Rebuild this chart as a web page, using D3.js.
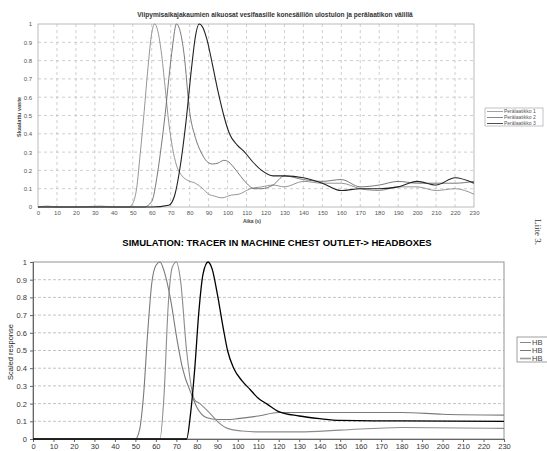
<!DOCTYPE html>
<html>
<head>
<meta charset="utf-8">
<script src="https://cdn.jsdelivr.net/npm/d3@7"></script>
<style>
  body { margin: 0; background: #fff; }
  svg { font-family: "Liberation Sans", Arial, sans-serif; }
</style>
</head>
<body>
<svg width="547" height="451"></svg>
<script>
var svg = d3.select('svg');

// Measured data (top chart), time in seconds
var topTime1 = [0, 5, 10, 20, 33, 40, 48, 50, 52, 54, 56, 58, 60, 61.5, 63, 65, 67, 69, 71, 73, 76, 79, 83, 87, 90, 93, 97, 102, 106, 112, 118, 124, 130, 140, 150, 160, 170, 180, 190, 200, 210, 220, 230];
var topVal1  = [0, 0.005, 0, 0, 0.005, 0, 0, 0.02, 0.1, 0.3, 0.52, 0.76, 0.95, 1, 0.97, 0.85, 0.66, 0.46, 0.32, 0.23, 0.17, 0.145, 0.13, 0.1, 0.07, 0.06, 0.05, 0.065, 0.07, 0.1, 0.11, 0.12, 0.11, 0.14, 0.13, 0.13, 0.1, 0.09, 0.11, 0.11, 0.09, 0.1, 0.07];
var topTime2 = [0, 20, 40, 56, 60, 63, 65, 67, 69, 71, 73, 75, 77, 80, 83, 86, 89, 92, 95, 98, 100, 103, 106, 110, 114, 118, 124, 130, 140, 150, 160, 170, 180, 190, 200, 210, 220, 230];
var topVal2  = [0, 0, 0, 0, 0.03, 0.18, 0.33, 0.5, 0.7, 0.88, 1, 0.96, 0.84, 0.52, 0.38, 0.3, 0.25, 0.235, 0.24, 0.255, 0.25, 0.22, 0.18, 0.13, 0.1, 0.1, 0.12, 0.17, 0.15, 0.14, 0.15, 0.11, 0.12, 0.14, 0.13, 0.13, 0.13, 0.14];
var topTime3 = [0, 20, 40, 60, 69, 72, 75, 78, 81, 83, 85, 87, 89, 92, 95, 98, 101, 105, 109, 113, 118, 124, 130, 140, 150, 160, 170, 180, 190, 200, 210, 220, 230];
var topVal3  = [0, 0, 0, 0, 0.01, 0.06, 0.22, 0.46, 0.76, 0.93, 1, 0.98, 0.92, 0.78, 0.63, 0.5, 0.4, 0.34, 0.3, 0.25, 0.2, 0.17, 0.17, 0.16, 0.13, 0.09, 0.1, 0.1, 0.11, 0.14, 0.12, 0.16, 0.13];
var topNames = ["Perälaatikko 1", "Perälaatikko 2", "Perälaatikko 3"];

// Simulation data (bottom chart)
var simTime1 = [0, 20, 40, 50, 52, 54, 56, 58, 60, 62, 64, 67, 70.5, 73, 77.5, 80, 85, 90, 95, 100, 110, 120, 150, 180, 200, 230];
var simVal1  = [0, 0, 0, 0, 0.05, 0.25, 0.6, 0.88, 0.98, 1, 0.95, 0.8, 0.55, 0.4, 0.25, 0.18, 0.12, 0.11, 0.11, 0.115, 0.13, 0.15, 0.15, 0.15, 0.14, 0.135];
var simTime2 = [0, 20, 40, 62, 64, 66, 68, 70, 72, 75, 79, 81.5, 86, 90, 95, 102, 110, 120, 130, 150, 180, 230];
var simVal2  = [0, 0, 0, 0, 0.25, 0.75, 0.97, 1, 0.9, 0.5, 0.22, 0.2, 0.15, 0.1, 0.06, 0.045, 0.04, 0.04, 0.04, 0.05, 0.065, 0.06];
var simTime3 = [0, 20, 40, 60, 75, 77, 79, 81, 83, 85.5, 87.5, 90, 93, 95, 98, 102, 106, 110, 114, 120, 130, 140, 150, 180, 230];
var simVal3  = [0, 0, 0, 0, 0, 0.15, 0.4, 0.72, 0.93, 1, 0.96, 0.82, 0.62, 0.5, 0.4, 0.33, 0.28, 0.23, 0.2, 0.155, 0.13, 0.115, 0.105, 0.102, 0.1];
var simNames = ["HB", "HB", "HB"];

var xTicks = d3.range(0, 231, 10);
var yTicks = d3.range(0, 1.01, 0.1);

function zip(xs, ys) {
  return xs.map((x, i) => ({ x: x, y: ys[i] }));
}

// ---------- Top chart ----------
var tx = d3.scaleLinear().domain([0, 230]).range([38, 474]);
var ty = d3.scaleLinear().domain([0, 1]).range([207, 24]);

var topG = svg.append("g");

// grid
topG.selectAll(".vgrid").data(xTicks.slice(1, -1)).enter().append("line")
  .attr("x1", d => tx(d)).attr("x2", d => tx(d))
  .attr("y1", ty(0)).attr("y2", ty(1))
  .attr("stroke", "#bbb").attr("stroke-width", 0.7).attr("stroke-dasharray", "3,3");
topG.selectAll(".hgrid").data(yTicks.slice(1, -1)).enter().append("line")
  .attr("x1", tx(0)).attr("x2", tx(230))
  .attr("y1", d => ty(d)).attr("y2", d => ty(d))
  .attr("stroke", "#bbb").attr("stroke-width", 0.7).attr("stroke-dasharray", "3,3");
topG.append("rect")
  .attr("x", tx(0)).attr("y", ty(1))
  .attr("width", tx(230) - tx(0)).attr("height", ty(0) - ty(1))
  .attr("fill", "none").attr("stroke", "#aaa").attr("stroke-width", 0.8);

var topXAxis = topG.append("g").attr("transform", "translate(0," + ty(0) + ")")
  .call(d3.axisBottom(tx).tickValues(xTicks).tickSize(0).tickPadding(4));
var topYAxis = topG.append("g").attr("transform", "translate(" + tx(0) + ",0)")
  .call(d3.axisLeft(ty).tickValues(yTicks).tickSize(0).tickPadding(6)
    .tickFormat(d => d === 0 ? "0" : d === 1 ? "1" : d3.format(".1f")(d)));
[topXAxis, topYAxis].forEach(function(a) {
  a.select(".domain").remove();
  a.selectAll("text").attr("font-size", 6).attr("fill", "#555").attr("font-family", "Liberation Sans, Arial");
});

var topLine = d3.line().x(d => tx(d.x)).y(d => ty(d.y)).curve(d3.curveMonotoneX);
var topSeries = [zip(topTime1, topVal1), zip(topTime2, topVal2), zip(topTime3, topVal3)];
var topColors = ["#8a8a8a", "#6a6a6a", "#222"];
topG.selectAll(".tline").data(topSeries).enter().append("path")
  .attr("d", topLine).attr("fill", "none")
  .attr("stroke", (d, i) => topColors[i]).attr("stroke-width", (d, i) => i === 2 ? 1.1 : 0.9);

topG.append("text").attr("x", 275).attr("y", 17).attr("text-anchor", "middle")
  .attr("font-size", 6.6).attr("font-weight", "bold").attr("fill", "#333")
  .text("Viipymisaikajakaumien aikuosat vesifaasille konesäiliön ulostulon ja perälaatikon välillä");
topG.append("text").attr("x", 252).attr("y", 222.5).attr("text-anchor", "middle")
  .attr("font-size", 5).attr("font-weight", "bold").attr("fill", "#444").text("Aika (s)");
topG.append("text").attr("transform", "translate(21,117) rotate(-90)").attr("text-anchor", "middle")
  .attr("font-size", 5.5).attr("font-weight", "bold").attr("fill", "#444").text("Skaalattu vaste");

// top legend
var tLeg = topG.append("g");
tLeg.append("rect").attr("x", 485).attr("y", 108).attr("width", 58).attr("height", 18)
  .attr("fill", "#fff").attr("stroke", "#999").attr("stroke-width", 0.6);
topNames.forEach(function(n, i) {
  var yy = 111.5 + i * 6;
  tLeg.append("line").attr("x1", 487).attr("x2", 503).attr("y1", yy).attr("y2", yy)
    .attr("stroke", topColors[i]).attr("stroke-width", 0.8);
  tLeg.append("text").attr("x", 504).attr("y", yy + 1.8).attr("font-size", 5)
    .attr("fill", "#555").text(n);
});

// ---------- Bottom chart ----------
var bx = d3.scaleLinear().domain([0, 230]).range([33, 504]);
var by = d3.scaleLinear().domain([0, 1]).range([439, 262]);
var bot = svg.append("g");

bot.selectAll(".bgrid").data(yTicks.slice(1, -1)).enter().append("line")
  .attr("x1", bx(0)).attr("x2", bx(230))
  .attr("y1", d => by(d)).attr("y2", d => by(d))
  .attr("stroke", "#aaa").attr("stroke-width", 0.7).attr("stroke-dasharray", "3,2");
bot.append("rect")
  .attr("x", bx(0)).attr("y", by(1))
  .attr("width", bx(230) - bx(0)).attr("height", by(0) - by(1))
  .attr("fill", "none").attr("stroke", "#888").attr("stroke-width", 0.9);

var botXAxis = bot.append("g").attr("transform", "translate(0," + by(0) + ")")
  .call(d3.axisBottom(bx).tickValues(xTicks).tickSize(3).tickPadding(2));
var botYAxis = bot.append("g").attr("transform", "translate(" + bx(0) + ",0)")
  .call(d3.axisLeft(by).tickValues(yTicks).tickSize(3).tickPadding(3)
    .tickFormat(d => d === 0 ? "0" : d === 1 ? "1" : d3.format(".1f")(d)));
[botXAxis, botYAxis].forEach(function(a) {
  a.select(".domain").attr("stroke", "#666");
  a.selectAll("line").attr("stroke", "#666");
  a.selectAll("text").attr("font-size", 7.5).attr("fill", "#333").attr("font-family", "Liberation Sans, Arial");
});

var botLine = d3.line().x(d => bx(d.x)).y(d => by(d.y)).curve(d3.curveMonotoneX);
var simSeries = [zip(simTime1, simVal1), zip(simTime2, simVal2), zip(simTime3, simVal3)];
var simColors = ["#7a7a7a", "#8c8c8c", "#000"];
bot.selectAll(".sline").data(simSeries).enter().append("path")
  .attr("d", botLine).attr("fill", "none")
  .attr("stroke", (d, i) => simColors[i]).attr("stroke-width", (d, i) => i === 2 ? 1.3 : 1.1);

bot.append("text").attr("x", 277).attr("y", 246).attr("text-anchor", "middle")
  .attr("font-size", 9.5).attr("font-weight", "bold").attr("fill", "#000")
  .text("SIMULATION: TRACER IN MACHINE CHEST OUTLET-> HEADBOXES");
bot.append("text").attr("transform", "translate(13,352) rotate(-90)").attr("text-anchor", "middle")
  .attr("font-size", 7.5).attr("fill", "#222").text("Scaled response");

// bottom legend
var bLeg = bot.append("g");
bLeg.append("rect").attr("x", 517).attr("y", 337).attr("width", 40).attr("height", 25)
  .attr("fill", "#fff").attr("stroke", "#777").attr("stroke-width", 0.7);
var legLineColors = ["#888", "#777", "#999"];
simNames.forEach(function(n, i) {
  var yy = 342.5 + i * 8;
  bLeg.append("line").attr("x1", 520).attr("x2", 531).attr("y1", yy).attr("y2", yy)
    .attr("stroke", legLineColors[i]).attr("stroke-width", i === 2 ? 1.6 : 1);
  bLeg.append("text").attr("x", 532).attr("y", yy + 2.6).attr("font-size", 7.5)
    .attr("fill", "#444").text(n);
});

// page annotation
svg.append("text").attr("transform", "translate(535,232) rotate(90)").attr("text-anchor", "middle")
  .attr("font-size", 9).attr("font-family", "Liberation Serif, serif").attr("fill", "#333").text("Liite 3.");
</script>
</body>
</html>
